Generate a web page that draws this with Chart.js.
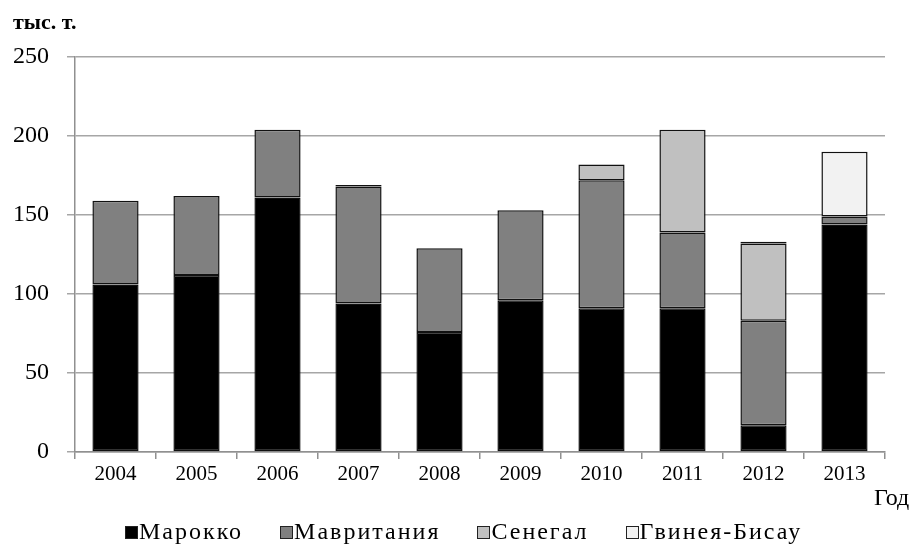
<!DOCTYPE html>
<html><head><meta charset="utf-8">
<script src="https://cdn.jsdelivr.net/npm/chart.js@4/dist/chart.umd.min.js"></script>
<style>
html,body{margin:0;padding:0;background:#fff;}
#wrap{position:relative;width:922px;height:544px;font-family:"Liberation Serif","Times New Roman","DejaVu Serif",serif;}
#c{position:absolute;left:0;top:0;}
#unit{position:absolute;left:13px;top:9px;font-weight:bold;font-size:22px;color:#000;white-space:nowrap;}
#xt{position:absolute;left:874px;top:484px;font-size:24px;color:#000;white-space:nowrap;}
#legend{position:absolute;left:125px;top:517px;display:flex;font-size:24px;letter-spacing:2px;color:#000;line-height:28px;white-space:nowrap;}
#legend .it{display:flex;align-items:center;margin-right:37px;}
#legend .bx{width:11px;height:11px;border:1px solid #222;margin-right:1px;margin-top:2px;}
</style></head>
<body>
<div id="wrap"><canvas id="c" width="922" height="544"></canvas>
<div id="unit">тыс. т.</div><div id="xt">Год</div><div id="legend"></div></div>
<script>
const years = ["2004","2005","2006","2007","2008","2009","2010","2011","2012","2013"];
const morocco    = [106, 112, 161, 94, 76, 96, 91, 91, 17, 144];
const mauritania = [53, 50, 43, 74, 53, 57, 81, 48, 66, 5];
const senegal    = [0, 0, 0, 1, 0, 0, 10, 65, 49, 0];
const guinea     = [0, 0, 0, 0, 0, 0, 0, 0, 1, 41];
const seriesNames = ["Марокко","Мавритания","Сенегал","Гвинея-Бисау"];
const colors = ["#000000","#808080","#c0c0c0","#f2f2f2"];
const serif = '"Liberation Serif", "Times New Roman", serif';
const all = [morocco, mauritania, senegal, guinea];

const lg = document.getElementById('legend');
seriesNames.forEach((n,i)=>{
  const it = document.createElement('div'); it.className='it';
  const b = document.createElement('div'); b.className='bx'; b.style.background=colors[i];
  const t = document.createElement('span'); t.textContent=n;
  it.appendChild(b); it.appendChild(t); lg.appendChild(it);
});

new Chart(document.getElementById('c'), {
  type: 'bar',
  data: {
    labels: years,
    datasets: all.map((d,i)=>({
      label: seriesNames[i], data: d, backgroundColor: colors[i],
      borderColor: '#111', borderWidth: 1.5, borderSkipped: false,
      barPercentage: 0.57, categoryPercentage: 1.0
    }))
  },
  options: {
    responsive: false, animation: false,
    layout: { padding: { left: 0, right: 37, top: 57, bottom: 0 } },
    plugins: { tooltip: { enabled: false }, legend: { display: false } },
    scales: {
      x: {
        stacked: true,
        afterFit: s => { s.height = 92; },
        grid: { offset: true, drawOnChartArea: false, color: '#909090', lineWidth: 1.5, tickLength: 7 },
        border: { color: '#909090', width: 1.5 },
        ticks: { font: { family: serif, size: 21 }, color: '#000', padding: 3 }
      },
      y: {
        stacked: true, min: 0, max: 250,
        afterFit: s => { s.width = 75; },
        grid: { color: '#a6a6a6', lineWidth: 1.5, tickLength: 8 },
        border: { color: '#909090', width: 1.5 },
        ticks: { stepSize: 50, font: { family: serif, size: 24 }, color: '#000', padding: 18 }
      }
    }
  }
});
</script>
</body></html>
